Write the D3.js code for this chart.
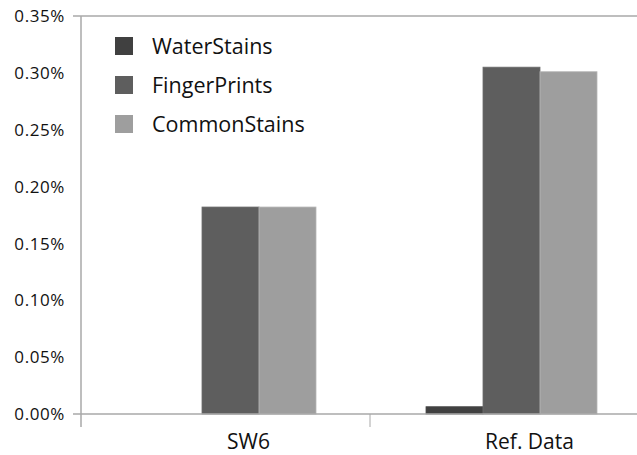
<!DOCTYPE html>
<html><head><meta charset="utf-8">
<script src="https://cdn.jsdelivr.net/npm/d3@7"></script>
<style>body{margin:0;background:#fff}svg{display:block}</style>
</head><body>
<script>
const categories = ["SW6", "Ref. Data"];
const seriesNames = ["WaterStains", "FingerPrints", "CommonStains"];
const waterStains = [0, 0.0064];
const fingerPrints = [0.182, 0.305];
const commonStains = [0.182, 0.301];
const yTicks = [0, 0.05, 0.10, 0.15, 0.20, 0.25, 0.30, 0.35];
const colors = ["#404040", "#5e5e5e", "#9e9e9e"];
const seriesValues = [waterStains, fingerPrints, commonStains];

const W = 637, H = 455;
const svg = d3.select("body").append("svg").attr("width", W).attr("height", H);
const font = "'Open Sans', 'Noto Sans', sans-serif";

const y = d3.scaleLinear().domain([0, 0.35]).range([414, 16]);
const x0 = d3.scaleBand().domain(categories).range([90, 652]);
const x1 = d3.scaleBand().domain(seriesNames).range([0, x0.bandwidth()]).paddingOuter(0.965);
const axisX = 81;

// Bars
categories.forEach((c, ci) => {
  seriesNames.forEach((s, si) => {
    const v = seriesValues[si][ci];
    if (v <= 0) return;
    svg.append("rect")
      .attr("x", x0(c) + x1(s))
      .attr("y", y(v))
      .attr("width", x1.bandwidth())
      .attr("height", y(0) - y(v))
      .attr("fill", colors[si])
      .attr("stroke", d3.color(colors[si]).brighter(0.4))
      .attr("stroke-width", 0.8);
  });
});

// Axis lines
const axisColor = "#a8a8a8";
svg.append("line").attr("x1", 73).attr("x2", W).attr("y1", y(0.35)).attr("y2", y(0.35))
  .attr("stroke", axisColor).attr("stroke-width", 1.5);
svg.append("line").attr("x1", 73).attr("x2", W).attr("y1", y(0)).attr("y2", y(0))
  .attr("stroke", axisColor).attr("stroke-width", 1.5);
svg.append("line").attr("x1", axisX).attr("x2", axisX).attr("y1", y(0.35)).attr("y2", 427)
  .attr("stroke", axisColor).attr("stroke-width", 1.5);
// Category separator tick
svg.append("line").attr("x1", x0(categories[1]) - 1).attr("x2", x0(categories[1]) - 1)
  .attr("y1", y(0)).attr("y2", 427).attr("stroke", axisColor).attr("stroke-width", 1);

// Y tick labels
svg.selectAll("text.ytick").data(yTicks).enter().append("text")
  .attr("class", "ytick")
  .attr("x", 65).attr("y", d => y(d))
  .attr("dy", "0.36em")
  .attr("text-anchor", "end")
  .attr("font-family", font).attr("font-size", 17)
  .attr("letter-spacing", "0.6px")
  .attr("fill", "#111")
  .text(d => d.toFixed(2) + "%");

// Category labels
svg.selectAll("text.xcat").data(categories).enter().append("text")
  .attr("class", "xcat")
  .attr("x", d => x0(d) + x0.bandwidth() / 2 + 18)
  .attr("y", 449)
  .attr("text-anchor", "middle")
  .attr("font-family", font).attr("font-size", 21)
  .attr("fill", "#111")
  .text(d => d);

// Legend
const lg = svg.append("g");
seriesNames.forEach((s, i) => {
  const cy = 46 + i * 39;
  lg.append("rect").attr("x", 115).attr("y", cy - 9).attr("width", 18).attr("height", 18)
    .attr("fill", colors[i]);
  lg.append("text").attr("x", 152).attr("y", cy).attr("dy", "0.36em")
    .attr("font-family", font).attr("font-size", 21.5).attr("fill", "#111").text(s);
});
</script>
</body></html>
